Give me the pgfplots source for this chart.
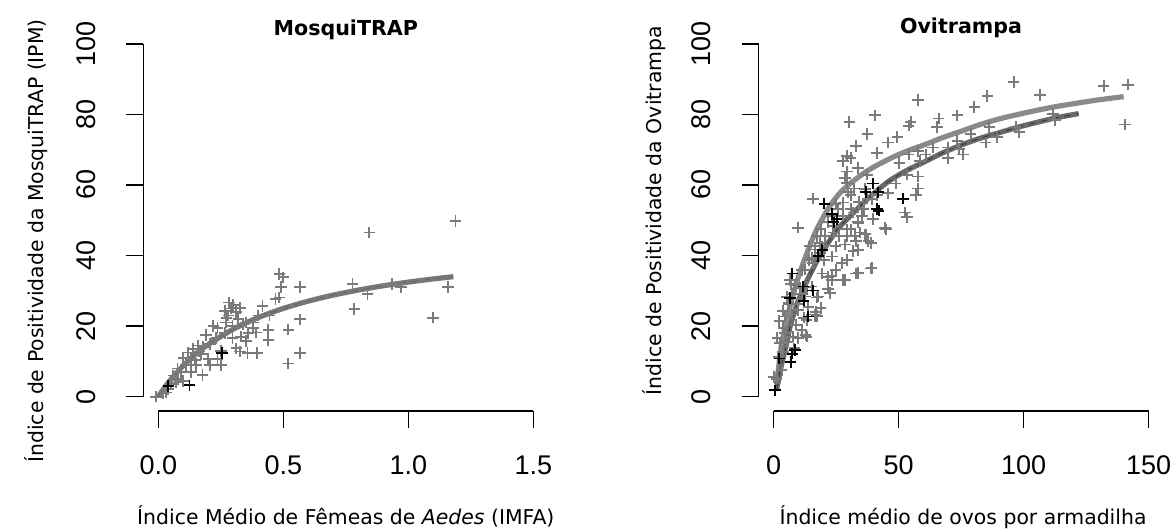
\documentclass[border=0pt]{standalone}
\usepackage{fontspec}
\setmainfont{DejaVu Sans}
\newfontfamily\tickfont{Liberation Sans}
\usepackage{pgfplots}
\pgfplotsset{compat=1.18}
\definecolor{ptgray}{RGB}{122,122,122}
\definecolor{curveA}{RGB}{120,120,120}
\definecolor{curveB}{RGB}{138,138,138}
\definecolor{curveC}{RGB}{105,105,105}
\pgfplotsset{
  rstyle/.style={
    scale only axis, width=202.5pt, height=190.6pt,
    anchor=south west, clip=false,
    axis x line*=bottom, axis y line*=left,
    axis line style={draw=none},
    tick align=outside, major tick length=8.5pt,
    every tick/.style={draw=black, line width=0.8pt},
    ymin=-4, ymax=104,
    ytick={0,20,40,60,80,100}, yticklabels={0,20,40,60,80,100},
    tick label style={font=\tickfont\fontsize{13.5}{16}\selectfont},
    yticklabel style={xshift=-15.5pt, rotate=90, anchor=base},
    xticklabel style={anchor=base, yshift=-23.2pt},
    mark options={solid, line width=0.9pt},
  },
}
\begin{document}
\begin{tikzpicture}
\useasboundingbox (0,0) rectangle (588pt,265pt);
% ---------------- MosquiTRAP ----------------
\begin{axis}[rstyle, at={(71.65pt,59.6pt)},
  xmin=-0.06, xmax=1.56,
  xtick={0,0.5,1,1.5}, xticklabels={0.0,0.5,1.0,1.5}]
\draw[line width=0.8pt] (axis cs:0,-4) -- (axis cs:1.5,-4);
\draw[line width=0.8pt] (axis cs:-0.06,0) -- (axis cs:-0.06,100);
\addplot[only marks, mark=+, mark size=2.9pt, color=ptgray] coordinates {
(-0.01,0)(0.03,1.2)(0.04,2.2)(0.05,3.6)(0.065,5)(0.077,8)(0.09,7)(0.11,9)
(0.132,10.7)(0.147,10.3)(0.163,12.8)(0.177,6.1)(0.19,17.5)(0.2,10.7)(0.207,9)
(0.207,15)(0.232,16.6)(0.237,19.5)(0.237,10.7)(0.252,9)(0.267,24.3)(0.267,18)
(0.273,22.4)(0.282,26.7)(0.297,16.6)(0.297,20)(0.312,13.7)(0.327,25.2)(0.327,12.8)
(0.34,20.5)(0.35,15.7)(0.357,12.3)(0.379,19.5)(0.394,12.3)(0.39,18.2)(0.4,23)
(0.417,25.7)(0.44,19)(0.44,16.1)(0.445,23)(0.469,27.7)(0.484,28.1)(0.484,34.8)
(0.49,31)(0.5,33.8)(0.52,19)(0.52,9.4)(0.567,31)(0.567,21.9)(0.567,12.3)
(0.777,32)(0.784,24.8)(0.837,29)(0.844,46.5)(0.934,32)(0.97,31)(1.099,22.4)
(1.159,31)(1.189,49.7)
(0.12,12.5)(0.14,13.5)(0.16,14.5)(0.18,14)(0.22,20)(0.25,13)(0.28,23)(0.3,26)
(0.32,22)(0.33,17)(0.36,18)(0.38,21)(0.06,6)(0.08,5)(0.1,4.5)(0.13,7)(0.15,9)
(0.02,1)(0.07,4)(0.1,11)(0.17,12)(0.27,21)(0.29,25)(0.31,24)(0.35,21)
};
\addplot[only marks, mark=+, mark size=2.9pt, color=black] coordinates {
(0.125,3.2)(0.255,12.3)(0.04,3)
};
\addplot[color=curveA, line width=2.6pt, smooth] coordinates {
(0,0)(0.02,2.08)(0.05,4.87)(0.1,8.81)(0.15,12.07)(0.2,14.8)(0.3,19.14)(0.4,22.42)
(0.5,25.0)(0.6,27.07)(0.7,28.78)(0.8,30.2)(0.9,31.42)(1.0,32.46)(1.1,33.36)(1.18,34.0)
};
\addplot[color=black!60, line width=0.4pt, dashed, smooth] coordinates {
(0,0)(0.02,2.08)(0.05,4.87)(0.1,8.81)(0.15,12.07)(0.2,14.8)(0.3,19.14)(0.4,22.42)
(0.5,25.0)(0.6,27.07)(0.7,28.78)(0.8,30.2)(0.9,31.42)(1.0,32.46)(1.1,33.36)(1.18,34.0)
};
\end{axis}
% ---------------- Ovitrampa ----------------
\begin{axis}[rstyle, at={(379.3pt,59.6pt)},
  xmin=-6, xmax=156,
  xtick={0,50,100,150}, xticklabels={0,50,100,150}]
\draw[line width=0.8pt] (axis cs:0,-4) -- (axis cs:150,-4);
\draw[line width=0.8pt] (axis cs:-6,0) -- (axis cs:-6,100);
\addplot[only marks, mark=+, mark size=2.9pt, color=ptgray] coordinates {
(96.0,89.1)(132,88.1)(141.8,88.4)(106.5,85.5)(85.5,85.2)(80.3,82)(57.8,84.1)
(40.5,79.7)(30.3,77.8)(140.6,77.1)(112.5,78.3)(111.8,80.2)(73.5,79.7)(66,78.8)
(54.8,77.8)(54,76.8)(86.3,76.4)(96.8,76.4)(37.5,74.4)(49.5,73.5)(45.8,72)(33,71.1)
(73.5,72.5)(74.3,70.1)(84.8,72)(69.8,67.7)(57.8,69.6)(58.5,66.7)(54,68.6)(50.3,66.2)
(41.3,69.1)(29.3,68.2)(27.8,66.7)(29.3,63.8)(28.5,61.9)(29.3,60.4)(57.8,62.4)(57.8,59)
(57,57.1)(53.3,62.9)(48.8,60.4)(45.8,57.6)(52.5,52.2)(53.3,50.8)(45,47.4)(41.3,57.1)
(37.5,56.1)(39.8,50.3)(39,43.6)(39,36.3)(36.8,46)(33,44.1)(33,34.9)(33.8,41.6)
(29.3,38.7)(27.8,33)(24.8,35.9)(21.8,30.6)(18.8,25.2)(16.5,23.3)(17.3,22.8)(15.8,56.1)
(9.8,47.9)(24.8,54.7)(27.8,51.3)(24,46.5)(29.3,45.5)(30.8,53.2)(34,55.2)(35.3,51.3)
(20.3,38.7)(15.8,37.8)(14.3,42.6)(17.3,45.5)(19.5,34.9)(23.3,33)(13.5,31)(11.3,29.1)
(12,22.4)(12.8,17.5)(9.8,16.6)(9,20.4)(7.5,23.3)(6.8,32)(5.3,28.2)(3.8,24.3)(2.3,21.4)
(1.5,16.6)(0,5.5)(5.3,15.6)(8.3,13.7)(3.8,12.7)(4.5,18)(9.8,26.2)(17.3,28.1)(21.8,33.9)
(7.5,29.1)(6,26.2)(11.3,35.9)(14.3,38.7)(18.8,40.7)(23.3,39.7)(24.8,42.6)(26.3,45.5)
(30.8,47.4)(33.8,49.4)(36,53.2)(23.3,51.3)(21.8,49.4)(18.8,47.4)(30.8,57.1)(32.3,59)
(30.8,67.7)(33.8,64.8)(37.5,62.9)(60.8,68.6)(63.8,70.6)(65.3,76.4)(78.8,74.4)(89.3,73.5)
(98.3,74.9)(69.8,70.6)(75.8,68.6)
(23.9,48.3)(29.2,47.4)(32.6,45.5)(34.6,46.5)(36.6,46)(28.6,43.1)(31.9,41.2)(27.2,37.9)
(33.9,35.1)(39.2,36.5)(28.6,33.1)(23.2,34.1)(22.6,29.3)(16.6,22.7)(16.8,24.1)(13.2,21.7)
(11.2,18.9)(13.2,17)(7.9,17)(1.9,11.3)(2.6,15.1)(3.9,19.4)(4.6,22.7)(5.9,26.5)(6.6,33.1)
(8.6,31.7)(10.6,30.8)(12.6,36)(15.2,39.3)(16.6,41.7)(18.6,43.6)(20.6,45.5)(15.2,31.2)
(17.9,28.4)(13.9,25.5)(12.6,28.4)(9.9,24.6)(3.2,7.5)(1.2,5.1)(25.9,53.1)(27.9,55)
(29.9,57.9)(29.2,60.7)(36.6,58.8)(39.2,56)(44.6,47.9)(37.9,44.1)(33.9,49.3)(31.9,52.2)
(19.2,42.6)
};
\addplot[only marks, mark=+, mark size=2.9pt, color=black] coordinates {
(51.8,56.1)(39.8,60.4)(41.3,53.2)(42,52.7)(36.8,58)(20.3,54.7)(24,49.4)(19.5,41.6)
(7.5,34.9)(0.6,1.8)(2.3,10.8)(6.8,9.8)(7.5,12.2)(12,27.2)(15.8,30.1)
(25.2,50.3)(8.6,13.2)(23.2,51.7)(41.9,57.9)(17.9,39.8)(11.9,31.2)(13.9,22.7)(6.6,28)
};
\addplot[color=curveB, line width=2.6pt, smooth] coordinates {
(1.2,3.5)(3,14)(5,21)(6.8,26.2)(9.5,33)(12.8,39.7)(17,47)(21.8,53.2)(26,57.3)
(30.8,60.5)(38,64.2)(45.8,67.2)(53,69.5)(60.8,71.5)(68,73.5)(75.8,75.4)(83,77.2)
(90.8,78.8)(98,80)(105.8,81.2)(113,82.2)(120.8,83.1)(130,84.1)(140,85)
};
\addplot[color=curveC, line width=2.6pt, smooth] coordinates {
(1.2,2)(3,8.5)(5,14.5)(6.8,20.4)(9.5,26.5)(12.8,32)(17,38)(21.8,43.6)(26,47.8)
(30.8,51.3)(38,56.3)(45.8,60.9)(53,64)(60.8,66.7)(68,69.2)(75.8,71.5)(83,73.3)
(90.8,74.9)(98,76.4)(105.8,77.8)(113,79)(122,80.2)
};
\addplot[color=black!80, line width=0.4pt, dashed, smooth] coordinates {
(1.2,2)(3,8.5)(5,14.5)(6.8,20.4)(9.5,26.5)(12.8,32)(17,38)(21.8,43.6)(26,47.8)
(30.8,51.3)(38,56.3)(45.8,60.9)(53,64)(60.8,66.7)(68,69.2)(75.8,71.5)(83,73.3)
(90.8,74.9)(98,76.4)(105.8,77.8)(113,79)(122,80.2)
};
\end{axis}
% ---------------- titles and labels ----------------
\node[anchor=base, font=\bfseries\fontsize{10.3}{12}\selectfont] at (172.9pt,247pt) {MosquiTRAP};
\node[anchor=base, font=\bfseries\fontsize{10.3}{12}\selectfont] at (480.5pt,248pt) {Ovitrampa};
\node[anchor=base, font=\fontsize{10.2}{12}\selectfont] at (172.9pt,3pt) {Índice Médio de Fêmeas de \textit{Aedes} (IMFA)};
\node[anchor=base, font=\fontsize{10.2}{12}\selectfont] at (481.5pt,3pt) {Índice médio de ovos por armadilha};
\node[anchor=base, rotate=90, font=\fontsize{10.2}{12}\selectfont] at (21.5pt,144.5pt) {Índice de Positividade da MosquiTRAP (IPM)};
\node[anchor=base, rotate=90, font=\fontsize{10.2}{12}\selectfont] at (330.5pt,159.7pt) {Índice de Positividade da Ovitrampa};
\end{tikzpicture}
\end{document}
